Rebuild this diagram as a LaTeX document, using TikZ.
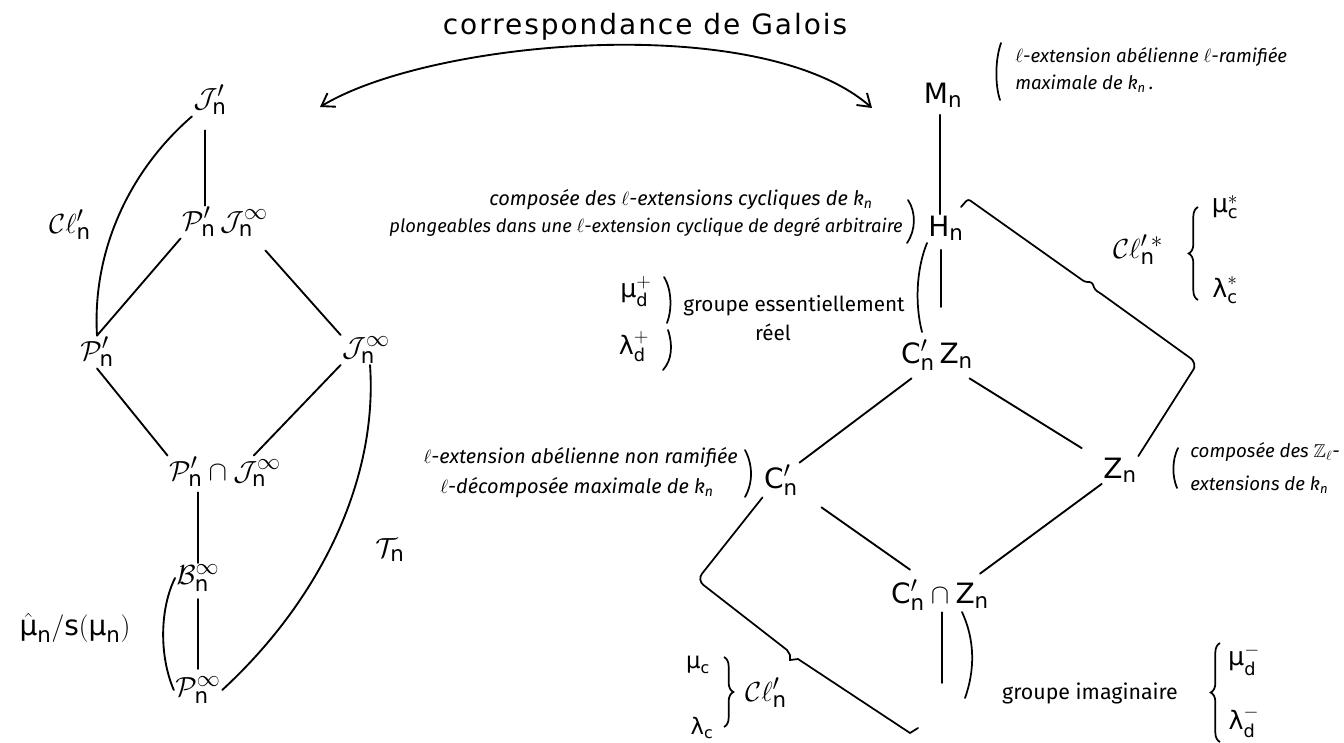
\documentclass[tikz,border=0pt]{standalone}
\usepackage{amsmath,amssymb}
\usepackage{fontspec}
\setmainfont{DejaVu Sans}
\newfontfamily\handfont{Fira Sans}
\usetikzlibrary{decorations.pathreplacing,arrows.meta,calc}
\DeclareMathSizes{21}{21}{16}{12}
\newcommand\nn{\text{n}}
\tikzset{
  lab/.style={font=\fontsize{21}{24}\selectfont, inner sep=1pt},
  hand/.style={font=\handfont\itshape\fontsize{15}{17}\selectfont, inner sep=0pt},
  handup/.style={font=\handfont\fontsize{16}{18}\selectfont, inner sep=0pt},
  edge/.style={line width=1.4pt, line cap=round},
  brk/.style={line width=1.3pt, line cap=round},
  cbrace/.style={line width=1.3pt, decorate, decoration={brace, amplitude=7pt}},
}
\begin{document}
\begin{tikzpicture}[x=0.75pt,y=-0.75pt]
\useasboundingbox (0,0) rectangle (1344,742);
% ---------- title and Galois arrow
\node[font=\fontsize{21}{24}\selectfont\addfontfeatures{LetterSpace=7}] (gal) at (645,27) {correspondance de Galois};
\coordinate (gl) at (320,107);
\coordinate (gr) at (872,108);
\draw[edge, {Straight Barb[length=9pt,width=12pt]}-{Straight Barb[length=9pt,width=12pt]}] (gl) .. controls (430,40) and (760,10) .. (gr);
% ---------- left diagram
\node[lab] (Jp)  at (210,100) {$\mathcal{J}'_{\nn}$};
\node[lab] (PJ)  at (225,222) {$\mathcal{P}'_{\nn}\,\mathcal{J}^{\infty}_{\nn}$};
\node[lab] (Pp)  at (97,352)  {$\mathcal{P}'_{\nn}$};
\node[lab] (Ji)  at (366,350) {$\mathcal{J}^{\infty}_{\nn}$};
\node[lab] (PcJ) at (225,472) {$\mathcal{P}'_{\nn}\cap\mathcal{J}^{\infty}_{\nn}$};
\node[lab] (B)   at (198,578) {$\mathcal{B}^{\infty}_{\nn}$};
\node[lab] (Pi)  at (198,690) {$\mathcal{P}^{\infty}_{\nn}$};
\node[lab] (Cl)  at (70,225)  {$\mathcal{C}\ell'_{\nn}$};
\node[lab] (muh) at (75,628)  {$\hat{\text{μ}}_{\nn}/\text{s}(\text{μ}_{\nn})$};
\node[lab] (T)   at (390,550) {$\mathcal{T}_{\nn}$};
\draw[edge] (Jp.south -| 205,0) ++(0,14) coordinate (a1);
\draw[edge] (a1) -- (a1 |- PJ.north);
\draw[edge] (PJ.south west) -- (Pp.north);
\draw[edge] ($(PJ.south east)+(-4,12)$) -- (Ji.north west);
\draw[edge] (Pp.south) -- (PcJ.north west);
\draw[edge] (Ji.south west) -- ($(PcJ.north)!0.5!(PcJ.north east)$);
\draw[edge] (B.north |- PcJ.south) ++(0,4) -- (B.north);
\draw[edge] ($(B.south)+(0,6)$) -- ($(Pi.north)+(0,-6)$);
\draw[edge] (B.west) .. controls +(-15,30) and +(-15,-35) .. (Pi.west);
\draw[edge] (Jp.south west) .. controls (130,170) and (92,250) .. (Pp.north);
\draw[edge] (Ji.-75) .. controls (378,480) and (320,600) .. (Pi.east);
% ---------- right diagram
\node[lab] (M)   at (943,95)  {$\text{M}_{\nn}$};
\node[lab] (H)   at (946,228) {$\text{H}_{\nn}$};
\node[lab] (CZ)  at (937,355) {$\text{C}'_{\nn}\,\text{Z}_{\nn}$};
\node[lab] (Z)   at (1120,470) {$\text{Z}_{\nn}$};
\node[lab] (C)   at (781,480) {$\text{C}'_{\nn}$};
\node[lab] (CcZ) at (940,595) {$\text{C}'_{\nn}\cap\text{Z}_{\nn}$};
\node[lab] (Cls) at (1138,250) {$\mathcal{C}\ell'^{\,*}_{\nn}$};
\node[lab] (Cl2) at (766,693) {$\mathcal{C}\ell'_{\nn}$};
\coordinate (bot) at (942,683);
\draw[edge] (M.south -| 940,0) coordinate (m1) ++(0,6) -- (m1 |- H.north);
\draw[edge] ($(H.south -| 941,0)+(0,8)$) -- (941,307);
\draw[edge] ($(CZ.south west)+(12,6)$) -- (C.north east);
\draw[edge] ($(CZ.south east)+(-5,6)$) -- ($(Z.north west)+(-20,-8)$);
\draw[edge] ($(C.south east)+(22,10)$) -- ($(CcZ.north)+(-30,-8)$);
\draw[edge] (Z.south west) -- ($(CcZ.north)+(40,-4)$);
\draw[edge] (CcZ.south -| bot) -- (bot);
% brackets
\draw[brk, rounded corners=2pt] (961,207) -- (968,199) -- (1085,282) -- (1092,282) -- (1095,290) -- (1100,293) -- (1193,360) -- (1195,367) -- (Z.north east);
\draw[brk, rounded corners=6pt] (C.south west) -- (697,580) -- (787,650);
\draw[brk] (787,650) -- (790,655) -- (790,660) -- (798,659) -- (910,733) -- (918,728);
\draw[brk] (927,243) .. controls (916,270) and (915,305) .. (922,332);
\draw[brk] (962,612) .. controls (975,640) and (975,670) .. (965,698);
% annotations
\node[lab, font=\fontsize{19}{22}\selectfont] (mus) at (1225,207) {$\text{μ}^{*}_{\text{c}}$};
\node[lab, font=\fontsize{19}{22}\selectfont] (las) at (1225,290) {$\text{λ}^{*}_{\text{c}}$};
\draw[cbrace] (1198,300) -- (1198,207);
\node[lab, font=\fontsize{19}{22}\selectfont] (mupd) at (636,292) {$\text{μ}^{+}_{\text{d}}$};
\node[lab, font=\fontsize{19}{22}\selectfont] (lapd) at (634,347) {$\text{λ}^{+}_{\text{d}}$};
\draw[brk] (664,277) .. controls (672,290) and (672,310) .. (667,323);
\draw[brk] (668,330) .. controls (673,345) and (672,360) .. (663,370);
\node[handup, font=\handfont\fontsize{15.5}{18}\selectfont] (ge) at (794,306) {groupe essentiellement};
\node[handup, font=\handfont\fontsize{15.5}{18}\selectfont] (re) at (773,332) {réel};
\node[lab, font=\fontsize{19}{22}\selectfont] (mumd) at (1244,660) {$\text{μ}^{-}_{\text{d}}$};
\node[lab, font=\fontsize{19}{22}\selectfont] (lamd) at (1244,722) {$\text{λ}^{-}_{\text{d}}$};
\draw[cbrace] (1220,742) -- (1220,643);
\node[handup] (gi) at (1090,693) {groupe imaginaire};
\node[lab, font=\fontsize{17}{20}\selectfont] (muc) at (698,665) {$\text{μ}_{\text{c}}$};
\node[lab, font=\fontsize{17}{20}\selectfont] (lac) at (702,728) {$\text{λ}_{\text{c}}$};
\draw[cbrace] (724,657) -- (724,727);
% handwritten notes
\draw[brk] (1001,43) .. controls (995,60) and (995,85) .. (1000,100);
\node[hand, anchor=west, font=\handfont\itshape\fontsize{14}{16}\selectfont] (t1) at (1015,57) {$\ell$-extension abélienne $\ell$-ramifiée};
\node[hand, anchor=west, font=\handfont\itshape\fontsize{14}{16}\selectfont] (t2) at (1015,84) {maximale de k\textsubscript{n}\,.};
\node[hand, anchor=east] (t3) at (873,200) {composée des $\ell$-extensions cycliques de k\textsubscript{n}};
\node[hand, anchor=east, font=\handfont\itshape\fontsize{13.8}{16}\selectfont] (t4) at (903,227) {plongeables dans une $\ell$-extension cyclique de degré arbitraire};
\draw[brk] (908,200) .. controls (916,212) and (916,230) .. (907,243);
\node[hand, anchor=east] (t5) at (738,458) {$\ell$-extension abélienne non ramifiée};
\node[hand, anchor=west] (t6) at (440,488) {$\ell$-décomposée maximale de k\textsubscript{n}};
\draw[brk] (745,450) .. controls (753,465) and (753,483) .. (745,497);
\draw[brk] (1178,448) .. controls (1172,460) and (1172,476) .. (1177,488);
\node[hand, anchor=west, font=\handfont\itshape\fontsize{14}{16}\selectfont] (t7) at (1190,452) {composée des $\mathbb{Z}_\ell$-};
\node[hand, anchor=west, font=\handfont\itshape\fontsize{14}{16}\selectfont] (t8) at (1190,485) {extensions de k\textsubscript{n}};
\end{tikzpicture}
\end{document}
